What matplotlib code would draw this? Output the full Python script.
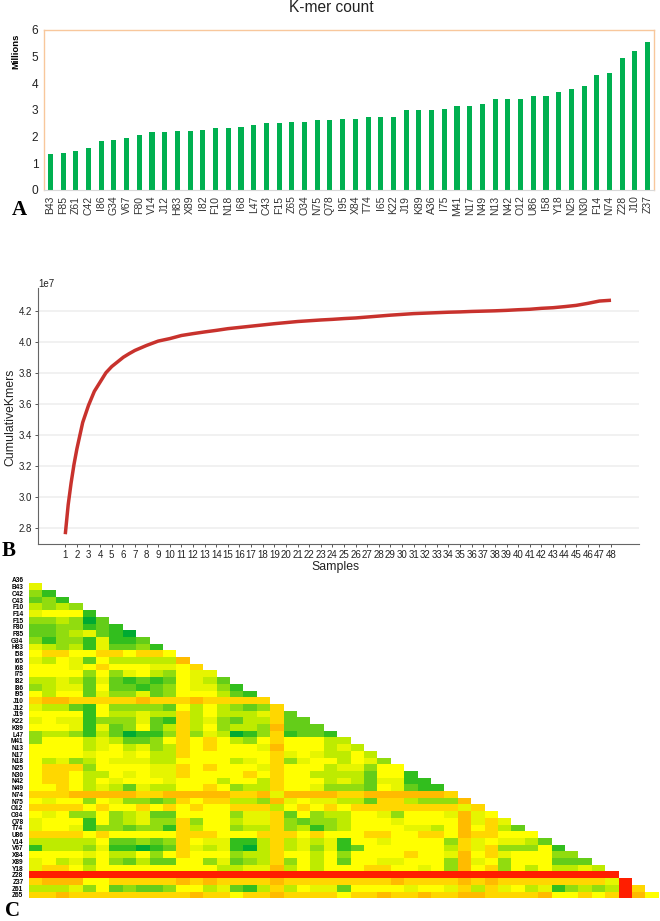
import numpy as np
import matplotlib
matplotlib.use('Agg')
import matplotlib.pyplot as plt
from matplotlib.colors import ListedColormap

W, H = 660, 921

# panel A
kmer_samples = ['B43', 'F85', 'Z61', 'C42', 'I86', 'G34', 'V67', 'F80', 'V14', 'J12', 'H83', 'X89',
                'I82', 'F10', 'N18', 'I68', 'L47', 'C43', 'F15', 'Z65', 'O34', 'N75', 'Q78', 'I95',
                'X84', 'T74', 'I65', 'K22', 'J19', 'K89', 'A36', 'I75', 'M41', 'N17', 'N49', 'N13',
                'N42', 'O12', 'U86', 'I58', 'Y18', 'N25', 'N30', 'F14', 'N74', 'Z28', 'J10', 'Z37']
kmer_counts = [1.35, 1.38, 1.46, 1.59, 1.84, 1.86, 1.94, 2.05, 2.16, 2.18, 2.20, 2.21,
               2.25, 2.33, 2.34, 2.36, 2.44, 2.50, 2.50, 2.55, 2.56, 2.61, 2.62, 2.65,
               2.67, 2.72, 2.72, 2.75, 2.99, 3.00, 3.01, 3.03, 3.14, 3.15, 3.22, 3.40,
               3.41, 3.41, 3.52, 3.53, 3.66, 3.78, 3.90, 4.31, 4.40, 4.95, 5.20, 5.54]

# panel B, extra readings between samples where the curve bends most
sample_numbers = list(range(1, 49))
curve_x = [1, 1.25, 1.5, 1.75, 2, 2.5, 3, 3.5, 4, 4.5, 5, 5.5, 6, 6.5] + sample_numbers[6:]
cumulative_kmers = [2.76, 2.95, 3.09, 3.21, 3.31, 3.48, 3.59, 3.68, 3.74, 3.80, 3.84, 3.87, 3.90, 3.923,
                    3.944, 3.976, 4.004, 4.02, 4.04, 4.052,
                    4.063, 4.073, 4.084, 4.092, 4.10, 4.108, 4.116, 4.123, 4.13, 4.135, 4.14, 4.144,
                    4.149, 4.153, 4.159, 4.165, 4.171, 4.176, 4.181, 4.184, 4.187, 4.19, 4.192, 4.195,
                    4.197, 4.199, 4.202, 4.206, 4.209, 4.215, 4.219, 4.226, 4.234, 4.247, 4.262, 4.267]

# panel C, 0 = dark green ... 6 = yellow ... 9 = red, one string per row
heat_labels = ['A36', 'B43', 'C42', 'C43', 'F10', 'F14', 'F15', 'F80', 'F85', 'G34', 'H83', 'I58',
               'I65', 'I68', 'I75', 'I82', 'I86', 'I95', 'J10', 'J12', 'J19', 'K22', 'K89', 'L47',
               'M41', 'N13', 'N17', 'N18', 'N25', 'N30', 'N42', 'N49', 'N74', 'N75', 'O12', 'O34',
               'Q78', 'T74', 'U86', 'V14', 'V67', 'X84', 'X89', 'Y18', 'Z28', 'Z37', 'Z61', 'Z65']
heat_rows = [
    '',
    '5',
    '31',
    '231',
    '4343',
    '56661',
    '334302',
    '2233121',
    '22345210',
    '313315112',
    '5434152231',
    '67766776776',
    '546526444448',
    '6665676665567',
    '66663635643655',
    '445425212126542',
    '3455262212365531',
    '64662533523666421',
    '7887777787 77877777',
    '5442163333 264643237',
    '6666164454 4746444572',
    '5655133352 17453244722',
    '6665152362 474634438222',
    '3443142011 3735401371221',
    '3666454223 67676436766644',
    '6666456453 476766658666454',
    '6666566564 4766666675654464',
    '6453465554 46666456735664653',
    '6777366665 5767666576 66455366',
    '6776446565 5766667676 644442661',
    '6776465666 5666466476 6645425511',
    '6676454254 4667634476 65333265211',
    '7778888877 8888877858 8887788888 87',
    '6566365332 3767744385 6554427743 338',
    '7777676676 7676677746 7676777777 7757',
    '6563363452 2666635572 6344665366 65856',
    '5666163453 3736645573 2334666566 668575',
    '5665133233 1746634473 4134666655 4686742',
    '7777676666 6777666777 6766677667 76877666',
    '4444462232 3765511474 5451665666 637565542',
    '1444351101 2754510474 5351266666 6475733361',
    '6666564463 6766634476 6463666676 65867566633',
    '5645363242 2663523473 6462665566 638563666222',
    '5776466666 6666445584 6466677665 6386736464454',
    '9999999999 9999999999 9999999999 9999999999 9999',
    '7888667777 7878777787 7777777877 778787777777759',
    '4445362322 3664521474 6552666656 6574756451343497',
    '7787777777 7787767787 7776778778 77887777866767986',
]
heat_colors = ['#00aa32', '#32be1e', '#64cd19', '#91dc0f', '#beeb00', '#e6f500',
               '#ffff00', '#ffd700', '#ffbb00', '#ff1e00']

plt.rcParams['font.family'] = ['Liberation Sans', 'DejaVu Sans']


def panel_axes(fig, left, top, right, bottom):
    # pixel box measured from the top left of the figure
    return fig.add_axes([left / W, 1 - bottom / H, (right - left) / W, (bottom - top) / H])


fig = plt.figure(figsize=(W / 100, H / 100), dpi=100)

# A - bars
ax = panel_axes(fig, 44, 30, 654, 190)
ax.bar(kmer_samples, kmer_counts, width=0.4, color='#00b050')
ax.set_xlim(-0.5, 47.5)
ax.set_ylim(0, 6)
ax.set_yticks(range(0, 7))
for side in ['top', 'left', 'right']:
    ax.spines[side].set_color('#f8c79c')
    ax.spines[side].set_linewidth(1.0)
ax.spines['bottom'].set_color('#d9d9d9')
ax.tick_params(axis='y', length=0, labelsize=8.6, pad=4, labelcolor='#222222')
ax.tick_params(axis='x', length=0, labelsize=7.5, pad=4, labelrotation=90, labelcolor='#333333')
fig.text(331 / W, 1 - 7 / H, 'K-mer count', fontsize=11.2, ha='center', va='center', color='#222222')
fig.text(16 / W, 1 - 51 / H, 'Millions', fontsize=6.8, fontweight='bold', rotation=90,
         ha='center', va='center')

# B - line
ax = panel_axes(fig, 38, 288, 639, 544.3)
ax.plot(curve_x, cumulative_kmers, color='#c8322d', linewidth=2.5, solid_capstyle='butt')
ax.set_xlim(-1.35, 50.41)
ax.set_ylim(2.695, 4.346)
ax.set_xticks(sample_numbers)
ax.set_yticks([2.8, 3.0, 3.2, 3.4, 3.6, 3.8, 4.0, 4.2])
ax.set_yticklabels(['2.8', '3.0', '3.2', '3.4', '3.6', '3.8', '4.0', '4.2'])
ax.grid(axis='y', color='#eeeeee', linewidth=1.1)
ax.set_axisbelow(True)
ax.spines['top'].set_visible(False)
ax.spines['right'].set_visible(False)
ax.spines['left'].set_color('#666666')
ax.spines['bottom'].set_color('#666666')
ax.tick_params(axis='both', length=2, width=0.7, color='#555555', labelsize=7, pad=2.2, labelcolor='#222222')
fig.text(38 / W, 1 - 284 / H, '1e7', fontsize=7, color='#222222', va='center')
fig.text(10 / W, 1 - 417 / H, 'CumulativeKmers', fontsize=8.8, rotation=90, ha='center', va='center',
         color='#222222')
fig.text(335 / W, 1 - 567 / H, 'Samples', fontsize=8.8, ha='center', va='center', color='#222222')

# C - lower triangle heatmap
matrix = np.full((len(heat_rows), len(heat_rows) - 1), np.nan)
for r, row in enumerate(heat_rows):
    digits = row.replace(' ', '')
    assert len(digits) == r, (r, len(digits))
    matrix[r, :r] = [int(d) for d in digits]

ax = panel_axes(fig, 29, 576.6, 658.8, 898.2)
cmap = ListedColormap(heat_colors)
cmap.set_bad('white')
ax.pcolormesh(np.ma.masked_invalid(matrix), cmap=cmap, vmin=-0.5, vmax=9.5)
ax.invert_yaxis()
ax.set_yticks(np.arange(len(heat_labels)) + 0.5)
ax.set_yticklabels(heat_labels, fontsize=4.7, fontweight='bold')
ax.set_xticks([])
ax.tick_params(axis='y', length=0, pad=4)
for spine in ax.spines.values():
    spine.set_visible(False)

# panel letters
for letter, x, y in [('A', 12, 215), ('B', 2, 556), ('C', 5, 916)]:
    fig.text(x / W, 1 - y / H, letter, fontsize=15, fontweight='bold', family='Liberation Serif',
             va='baseline', ha='left')

fig.savefig('out.png', dpi=100)
